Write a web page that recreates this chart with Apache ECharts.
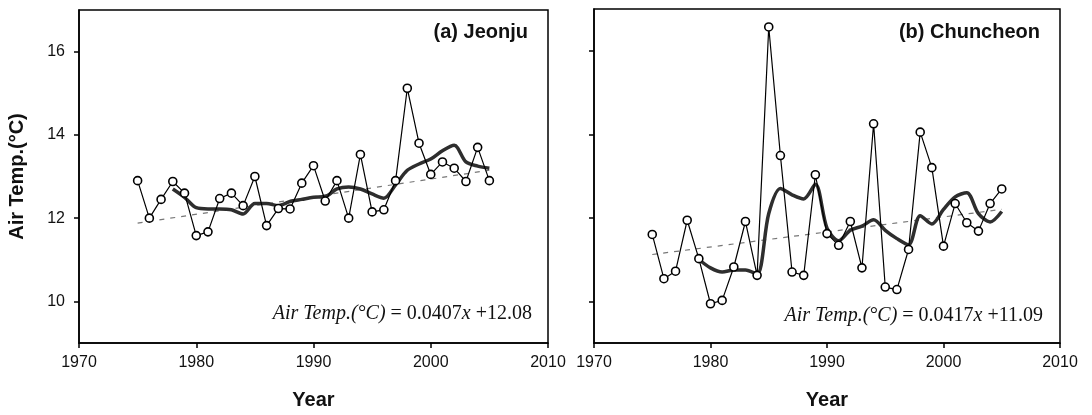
<!DOCTYPE html>
<html>
<head>
<meta charset="utf-8">
<script src="https://cdn.jsdelivr.net/npm/echarts@6/dist/echarts.min.js"></script>
<style>
html,body{margin:0;padding:0;background:#fff;}
#chart{width:1092px;height:415px;}
</style>
</head>
<body>
<div id="chart"></div>
<script>
// ---- data ----
var years = [1975,1976,1977,1978,1979,1980,1981,1982,1983,1984,1985,1986,1987,1988,1989,1990,
             1991,1992,1993,1994,1995,1996,1997,1998,1999,2000,2001,2002,2003,2004,2005];
var jeonjuTemp = [12.9,12.0,12.45,12.88,12.6,11.58,11.67,12.47,12.6,12.3,13.0,11.82,12.23,12.22,12.84,13.26,
                  12.41,12.9,12.0,13.53,12.15,12.2,12.9,15.12,13.8,13.05,13.35,13.2,12.88,13.7,12.9];
var chuncheonTemp = [11.6,10.54,10.72,11.94,11.02,9.94,10.02,10.82,11.91,10.62,16.57,13.49,10.7,10.62,13.03,11.62,
                     11.34,11.91,10.8,14.25,10.34,10.28,11.24,14.05,13.2,11.32,12.34,11.88,11.68,12.34,12.69];
var jeonjuSmoothYears = [1978,1979,1980,1981,1982,1983,1984,1985,1986,1987,1988,1989,1990,1991,1992,1993,1994,1995,1996,1997,1998,1999,2000,2001,2002,2003,2004,2005];
var jeonjuSmooth = [12.7,12.5,12.25,12.22,12.22,12.2,12.1,12.35,12.35,12.3,12.4,12.45,12.5,12.52,12.7,12.75,12.7,12.58,12.48,12.8,13.15,13.3,13.42,13.62,13.75,13.35,13.25,13.2];
var chuncheonSmoothYears = [1979,1980,1981,1982,1983,1984,1985,1986,1987,1988,1989,1990,1991,1992,1993,1994,1995,1996,1997,1998,1999,2000,2001,2002,2003,2004,2005];
var chuncheonSmooth = [11.0,10.8,10.7,10.75,10.75,10.65,12.1,12.7,12.55,12.45,12.8,11.75,11.45,11.7,11.8,11.95,11.7,11.5,11.35,12.05,11.85,12.2,12.5,12.6,12.1,11.9,12.15];
var trendYears = [1975,2005];
var jeonjuTrend = [11.88,13.15];
var chuncheonTrend = [11.12,12.2];
var xTicks = [1970,1980,1990,2000,2010];
var yTicks = [10,12,14,16];
var titles = ['(a) Jeonju','(b) Chuncheon'];
var slopes = ['0.0407','0.0417'];
var intercepts = ['+12.08','+11.09'];

function pairs(xs, ys){ return xs.map(function(x,i){ return [x, ys[i]]; }); }

var chart = echarts.init(document.getElementById('chart'), null, {renderer:'canvas'});

var grids = [
  {left:79, right:544, top:10, bottom:71, show:true, borderColor:'#000', borderWidth:1.5, backgroundColor:'#fff'},
  {left:594, right:32, top:9, bottom:71, show:true, borderColor:'#000', borderWidth:1.5, backgroundColor:'#fff'}
];

function xAxisFor(i){
  return {
    type:'value', gridIndex:i, min:1970, max:2010, interval:10,
    name:'Year', nameLocation:'middle', nameGap:47,
    nameTextStyle:{fontFamily:'Liberation Sans, Arial', fontWeight:'bold', fontSize:20, color:'#111'},
    axisLine:{show:true, lineStyle:{color:'#000', width:1.5}},
    axisTick:{show:true, inside:false, length:5, lineStyle:{color:'#000', width:1.5}},
    axisLabel:{show:true, margin:12, fontFamily:'Liberation Sans, Arial', fontSize:16, color:'#111',
      formatter:function(v){ return String(v); }},
    splitLine:{show:false}
  };
}
function yAxisFor(i){
  return {
    type:'value', gridIndex:i, min:9, max:17,
    name: i===0 ? 'Air Temp.(\u00B0C)' : '', nameLocation:'middle', nameGap:52,
    nameTextStyle:{fontFamily:'Liberation Sans, Arial', fontWeight:'bold', fontSize:20, color:'#111'},
    axisLine:{show:true, lineStyle:{color:'#000', width:1.5}},
    axisTick:{show:true, inside:false, length:5, customValues:yTicks, lineStyle:{color:'#000', width:1.5}},
    axisLabel:{show:i===0, margin:14, customValues:yTicks, fontFamily:'Liberation Sans, Arial', fontSize:16, color:'#111'},
    splitLine:{show:false}
  };
}

function seriesFor(i, temps, sYears, sVals, tVals){
  return [
    {type:'line', xAxisIndex:i, yAxisIndex:i, data:pairs(trendYears, tVals), symbol:'none',
     lineStyle:{color:'#777', width:1.2, type:[5,6]}, z:1, silent:true},
    {type:'line', xAxisIndex:i, yAxisIndex:i, data:pairs(sYears, sVals), symbol:'none', smooth:0.3,
     lineStyle:{color:'#2e2e2e', width:3.5}, z:2, silent:true},
    {type:'line', xAxisIndex:i, yAxisIndex:i, data:pairs(years, temps), symbol:'circle', symbolSize:8,
     lineStyle:{color:'#000', width:1.2},
     itemStyle:{color:'#fff', borderColor:'#000', borderWidth:1.6}, z:3, silent:true}
  ];
}

function eqText(k){
  return '{i|Air Temp.(\u00B0C)}{n| = ' + slopes[k] + '}{i|x}{n| ' + intercepts[k] + '}';
}
var eqRich = {i:{fontFamily:'Liberation Serif', fontStyle:'italic', fontSize:20, fill:'#111'},
              n:{fontFamily:'Liberation Serif', fontSize:20, fill:'#111'}};

var option = {
  backgroundColor:'#fff',
  animation:false,
  grid:grids,
  xAxis:[xAxisFor(0), xAxisFor(1)],
  yAxis:[yAxisFor(0), yAxisFor(1)],
  series:[].concat(
    seriesFor(0, jeonjuTemp, jeonjuSmoothYears, jeonjuSmooth, jeonjuTrend),
    seriesFor(1, chuncheonTemp, chuncheonSmoothYears, chuncheonSmooth, chuncheonTrend)
  ),
  graphic:[
    {type:'text', right:1092-528, top:22, style:{text:titles[0], font:'bold 20px "Liberation Sans", Arial', fill:'#111'}},
    {type:'text', right:1092-1040, top:22, style:{text:titles[1], font:'bold 20px "Liberation Sans", Arial', fill:'#111'}},
    {type:'text', right:1092-532, top:304, style:{text:eqText(0), rich:eqRich}},
    {type:'text', right:1092-1043, top:306, style:{text:eqText(1), rich:eqRich}}
  ]
};
chart.setOption(option);
</script>
</body>
</html>
